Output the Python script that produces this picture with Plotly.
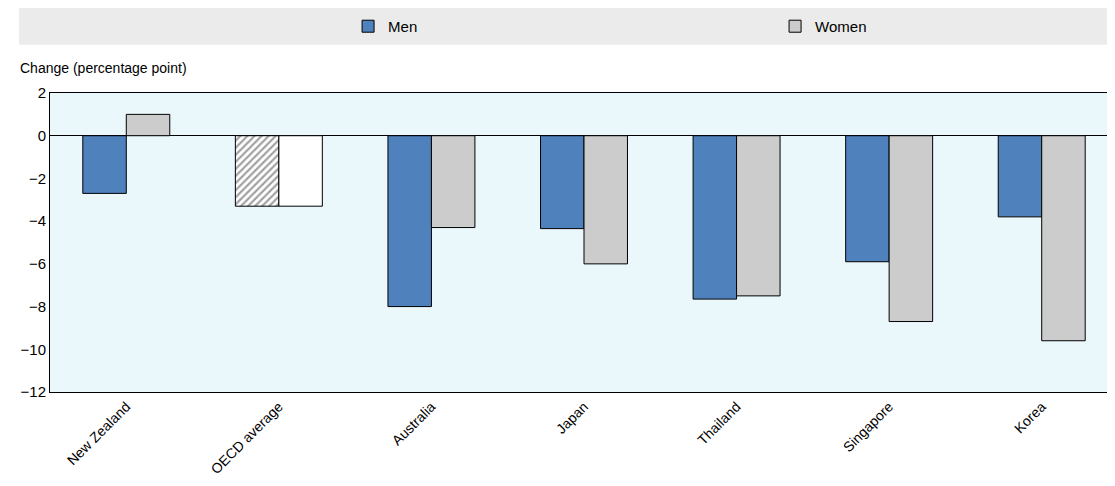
import plotly.graph_objects as go

countries = ["New Zealand", "OECD average", "Australia", "Japan", "Thailand", "Singapore", "Korea"]
men = [-2.7, -3.3, -8.0, -4.35, -7.65, -5.9, -3.8]
women = [1.0, -3.3, -4.3, -6.0, -7.5, -8.7, -9.6]

blue = "#4F81BD"
grey = "#CCCCCC"
men_colors = [blue if c != "OECD average" else "white" for c in countries]
men_shapes = ["/" if c == "OECD average" else "" for c in countries]
women_colors = [grey if c != "OECD average" else "white" for c in countries]

fig = go.Figure()
fig.add_trace(go.Bar(x=countries, y=men, name="Men",
                     marker=dict(color=men_colors, line=dict(color="black", width=1),
                                 pattern=dict(shape=men_shapes, fgcolor="black", bgcolor="white", size=5, solidity=0.45))))
fig.add_trace(go.Bar(x=countries, y=women, name="Women",
                     marker=dict(color=women_colors, line=dict(color="black", width=1))))

fig.update_layout(
    width=1115, height=486, barmode="group", bargap=0.43, bargroupgap=0,
    margin=dict(l=42, r=5, t=85, b=102, autoexpand=False),
    paper_bgcolor="white", plot_bgcolor="#EAF8FC",
    font=dict(family="Liberation Sans, Arial", size=14, color="black"),
    showlegend=True,
    legend=dict(orientation="h", xref="container", yref="container", x=0.305, xanchor="left",
                y=0.962, yanchor="middle",
                bgcolor="rgba(0,0,0,0)", entrywidth=382, entrywidthmode="pixels",
                font=dict(size=15), itemwidth=30, tracegroupgap=0),
    shapes=[dict(type="rect", xref="paper", yref="paper", x0=-0.029, x1=1.0, y0=1.161, y1=1.284,
                 fillcolor="#EBEBEB", line=dict(width=0), layer="below")],
    annotations=[dict(text="Change (percentage point)", xref="paper", yref="paper", x=-0.03, y=1.05,
                      xanchor="left", yanchor="bottom", showarrow=False, font=dict(size=14))],
)
fig.update_yaxes(range=[-12, 2], dtick=2, showgrid=False, zeroline=True, zerolinecolor="black",
                 zerolinewidth=1, showline=True, linecolor="black", mirror=True, ticks="",
                 tickfont=dict(size=15))
fig.update_xaxes(showgrid=False, tickangle=-45, showline=True, linecolor="black", mirror=True,
                 ticks="", tickfont=dict(size=14))
fig.write_html("out.html")
